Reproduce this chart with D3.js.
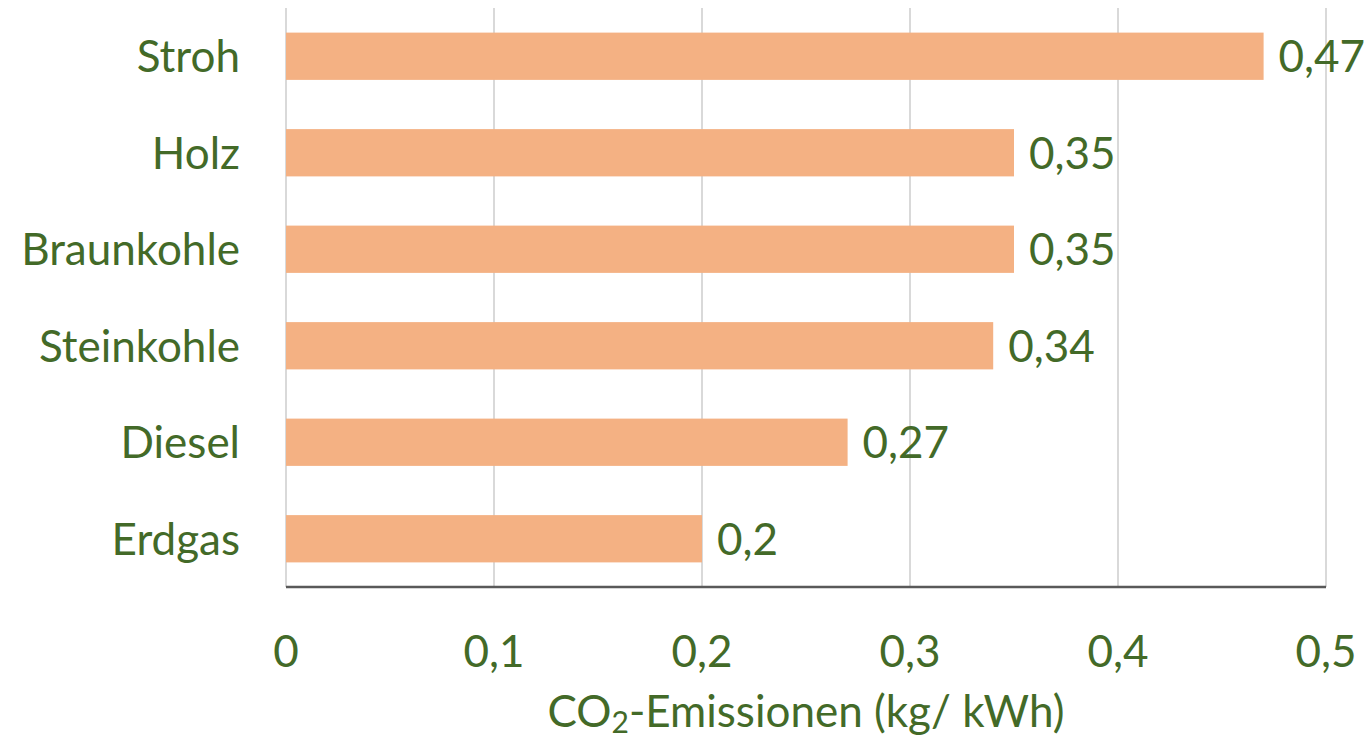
<!DOCTYPE html>
<html><head><meta charset="utf-8">
<script src="https://cdn.jsdelivr.net/npm/d3@7"></script>
<style>body{margin:0;background:#fff}svg{display:block}</style>
</head><body>
<svg id="c" width="1372" height="742"></svg>
<script>
const categories = ["Stroh","Holz","Braunkohle","Steinkohle","Diesel","Erdgas"];
const values = [0.47,0.35,0.35,0.34,0.27,0.2];
const tickValues = [0,0.1,0.2,0.3,0.4,0.5];
const axisTitle = "CO₂-Emissionen (kg/ kWh)";

(function(){
const svg = d3.select("#c");
const font = "Lato, 'Open Sans', sans-serif";
const green = "#436a28";
const fs = 44;
const mLeft = 286, mRight = 1326, mTop = 8, mBottom = 587;
const fmt = v => String(v).replace(".", ",");

const x = d3.scaleLinear().domain([0,0.5]).range([mLeft,mRight]);
const y = d3.scaleBand().domain(categories).range([mTop,mBottom]).paddingInner(0.51).paddingOuter(0.255);

svg.append("g").selectAll("line").data(tickValues).join("line")
  .attr("x1", d=>x(d)).attr("x2", d=>x(d)).attr("y1", mTop).attr("y2", mBottom)
  .attr("stroke", "#d9d9d9").attr("stroke-width", 2);

svg.append("g").selectAll("rect").data(values).join("rect")
  .attr("x", x(0)).attr("y", (d,i)=>y(categories[i]))
  .attr("width", d=>x(d)-x(0)).attr("height", y.bandwidth())
  .attr("fill", "#f4b183");

svg.append("line").attr("x1", mLeft).attr("x2", mRight).attr("y1", mBottom).attr("y2", mBottom)
  .attr("stroke", "#595959").attr("stroke-width", 2.5);

svg.append("g").selectAll("text").data(values).join("text")
  .attr("x", d=>x(d)+15).attr("y", (d,i)=>y(categories[i])+y.bandwidth()/2)
  .attr("dy","0.36em").attr("font-family",font).attr("font-size",fs).attr("fill",green)
  .text(d=>fmt(d));

svg.append("g").selectAll("text").data(categories).join("text")
  .attr("x", 240).attr("y", d=>y(d)+y.bandwidth()/2)
  .attr("dy","0.36em").attr("text-anchor","end").attr("font-family",font).attr("font-size",fs).attr("fill",green)
  .text(d=>d);

svg.append("g").selectAll("text").data(tickValues).join("text")
  .attr("x", d=>x(d)).attr("y", 651)
  .attr("dy","0.36em").attr("text-anchor","middle").attr("font-family",font).attr("font-size",fs).attr("fill",green)
  .text(d=>fmt(d));

const t = svg.append("text").attr("x", (mLeft+mRight)/2).attr("y", 727)
  .attr("text-anchor","middle").attr("font-family",font).attr("font-size",fs).attr("fill",green);
t.append("tspan").text("CO");
t.append("tspan").attr("font-size",30).attr("dy",6).text("2");
t.append("tspan").attr("dy",-6).text("-Emissionen (kg/ kWh)");
})();
</script>
</body></html>
